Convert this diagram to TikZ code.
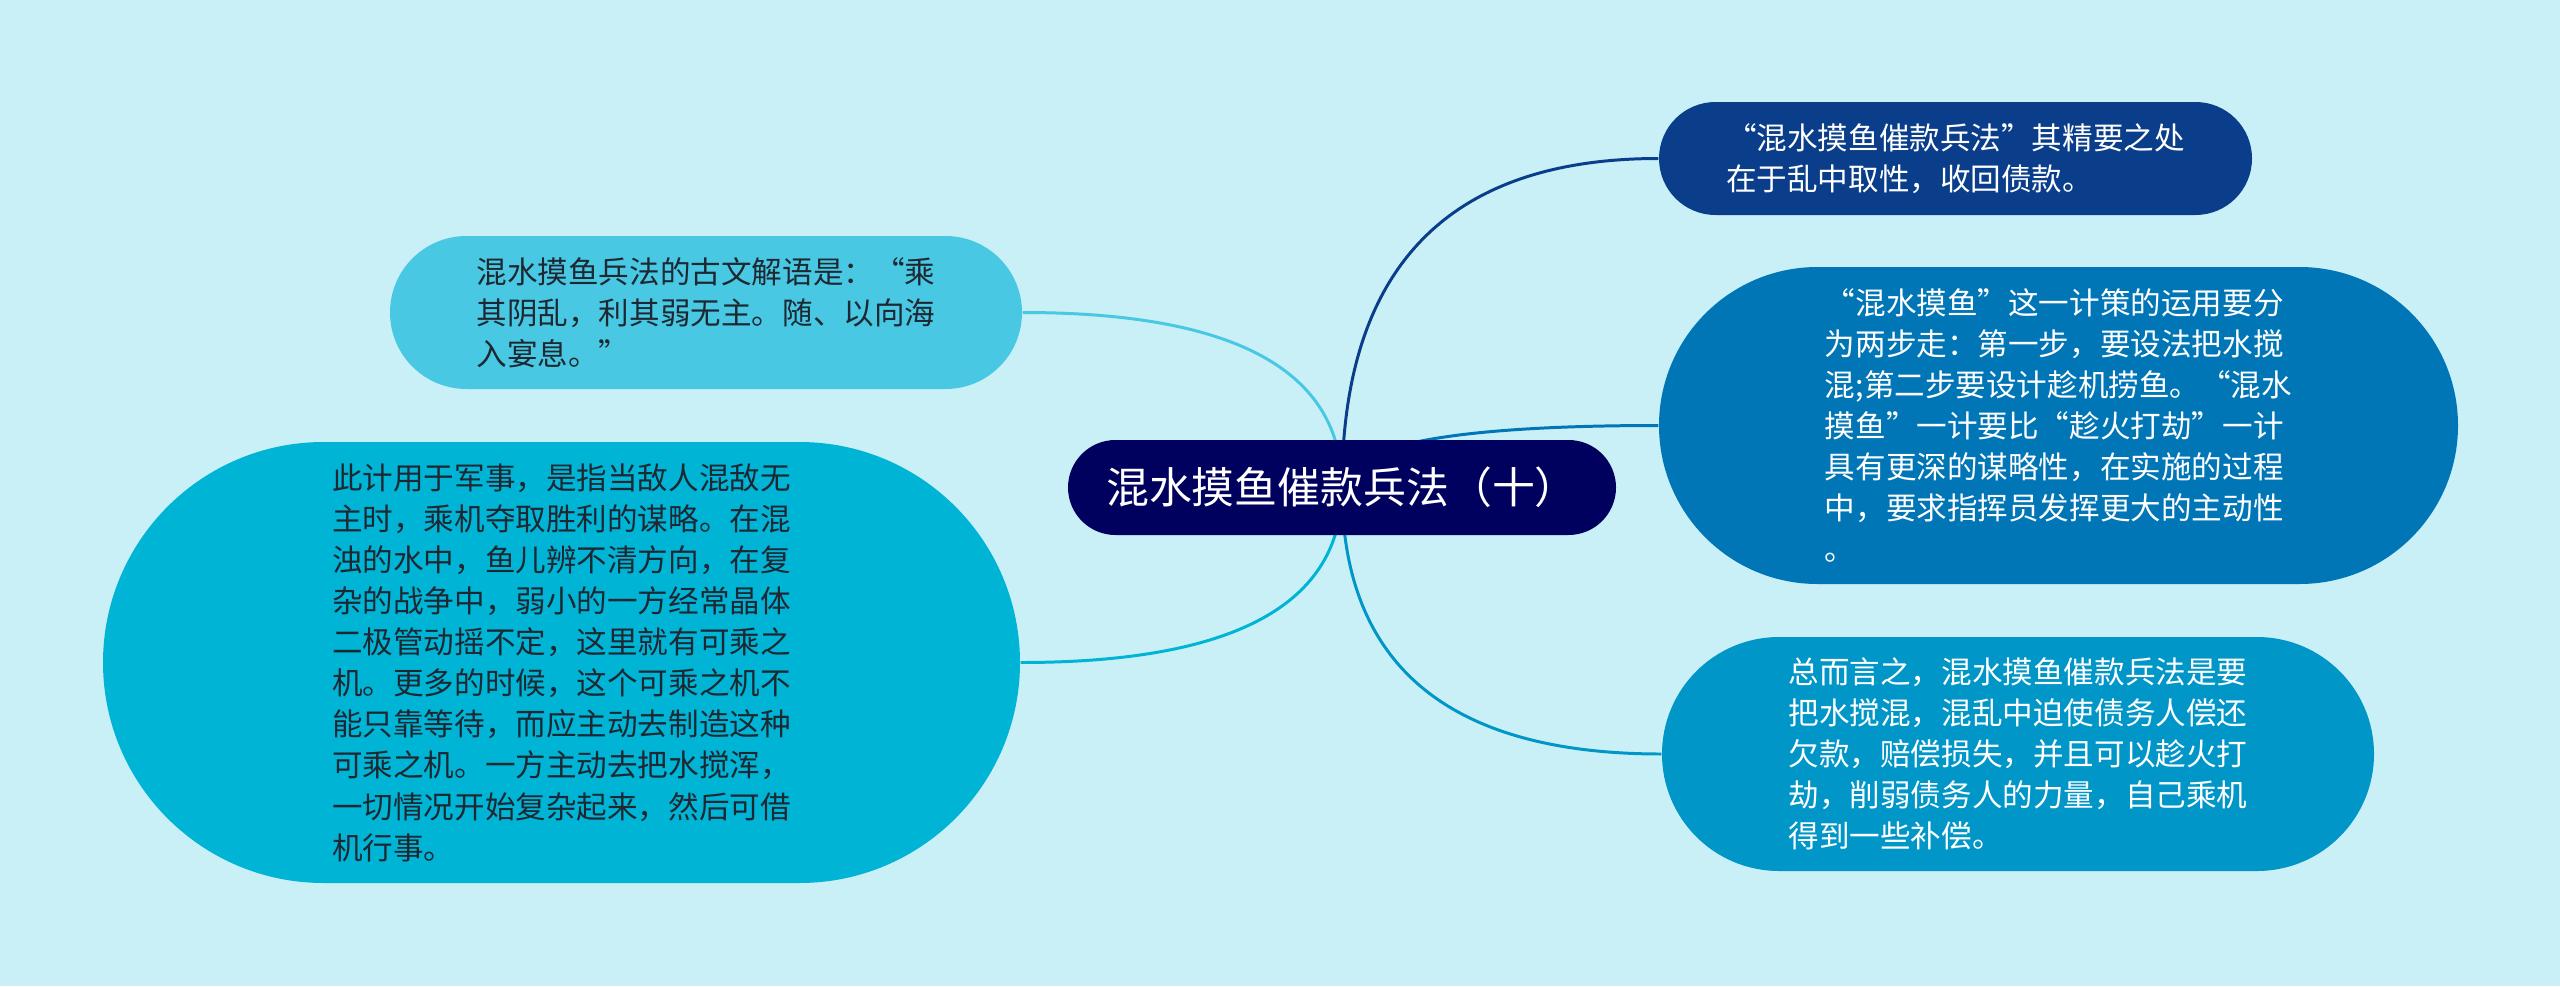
\documentclass[tikz,border=0pt]{standalone}
\usepackage{fontspec}
\newfontfamily\cjk{Noto Sans CJK SC}
\definecolor{bgcyan}{RGB}{202,240,247}
\definecolor{navy}{RGB}{0,0,94}
\definecolor{deepblue}{RGB}{10,62,138}
\definecolor{midblue}{RGB}{0,118,182}
\definecolor{seablue}{RGB}{0,150,200}
\definecolor{skyblue}{RGB}{72,200,226}
\definecolor{aqua}{RGB}{0,180,214}
\definecolor{inkgray}{RGB}{30,40,50}
\usepackage{tikz}
\usetikzlibrary{shapes.misc,calc,backgrounds}

\begin{document}
\begin{tikzpicture}[
  topic/.style={rounded rectangle,fill=navy,text=white,inner sep=0pt,
                font=\cjk\fontsize{12.2}{15}\selectfont},
  leaf/.style={rounded rectangle,inner sep=0pt,align=left,
               font=\cjk\fontsize{8.7}{11.7}\selectfont},
  branch/.style={line width=0.85pt}]
  % centro
  \node[topic,minimum width=5.48cm,minimum height=0.95cm] (ctr) at (13.42,4.985)
    {混水摸鱼催款兵法（十）};
  % direita
  \node[leaf,fill=deepblue,text=white,minimum width=5.93cm,minimum height=1.13cm]
    (n1) at (19.555,8.275)
    {“混水摸鱼催款兵法”其精要之处\\在于乱中取性，收回债款。};
  \node[leaf,fill=midblue,text=white,minimum width=7.99cm,minimum height=3.17cm]
    (n2) at (20.585,5.605)
    {“混水摸鱼”这一计策的运用要分\\为两步走：第一步，要设法把水搅\\
     混;第二步要设计趁机捞鱼。“混水\\摸鱼”一计要比“趁火打劫”一计\\
     具有更深的谋略性，在实施的过程\\中，要求指挥员发挥更大的主动性\\。};
  \node[leaf,fill=seablue,text=white,minimum width=7.12cm,minimum height=2.34cm]
    (n3) at (20.18,2.32)
    {总而言之，混水摸鱼催款兵法是要\\把水搅混，混乱中迫使债务人偿还\\
     欠款，赔偿损失，并且可以趁火打\\劫，削弱债务人的力量，自己乘机\\
     得到一些补偿。};
  % esquerda
  \node[leaf,fill=skyblue,text=inkgray,minimum width=6.32cm,minimum height=1.53cm]
    (n4) at (7.06,6.735)
    {混水摸鱼兵法的古文解语是：“乘\\其阴乱，利其弱无主。随、以向海\\入宴息。”};
  \node[leaf,fill=aqua,text=inkgray,minimum width=9.17cm,minimum height=4.41cm]
    (n5) at (5.615,3.235)
    {此计用于军事，是指当敌人混敌无\\主时，乘机夺取胜利的谋略。在混\\
     浊的水中，鱼儿辨不清方向，在复\\杂的战争中，弱小的一方经常晶体\\
     二极管动摇不定，这里就有可乘之\\机。更多的时候，这个可乘之机不\\
     能只靠等待，而应主动去制造这种\\可乘之机。一方主动去把水搅浑，\\
     一切情况开始复杂起来，然后可借\\机行事。};
  % fundo e ramos
  \begin{scope}[on background layer]
    \fill[bgcyan] (0,0) rectangle (25.6,9.86);
    \foreach \nd/\col/\side in {n1/deepblue/west, n2/midblue/west, n3/seablue/west,
                                n4/skyblue/east, n5/aqua/east}{
      \draw[branch,\col] (ctr.center)
        .. controls ($(ctr.center)!2/3!(ctr.center |- \nd.\side)$)
        and ($(\nd.\side)!2/3!(ctr.center |- \nd.\side)$) .. (\nd.\side);
    }
  \end{scope}
\end{tikzpicture}
\end{document}
